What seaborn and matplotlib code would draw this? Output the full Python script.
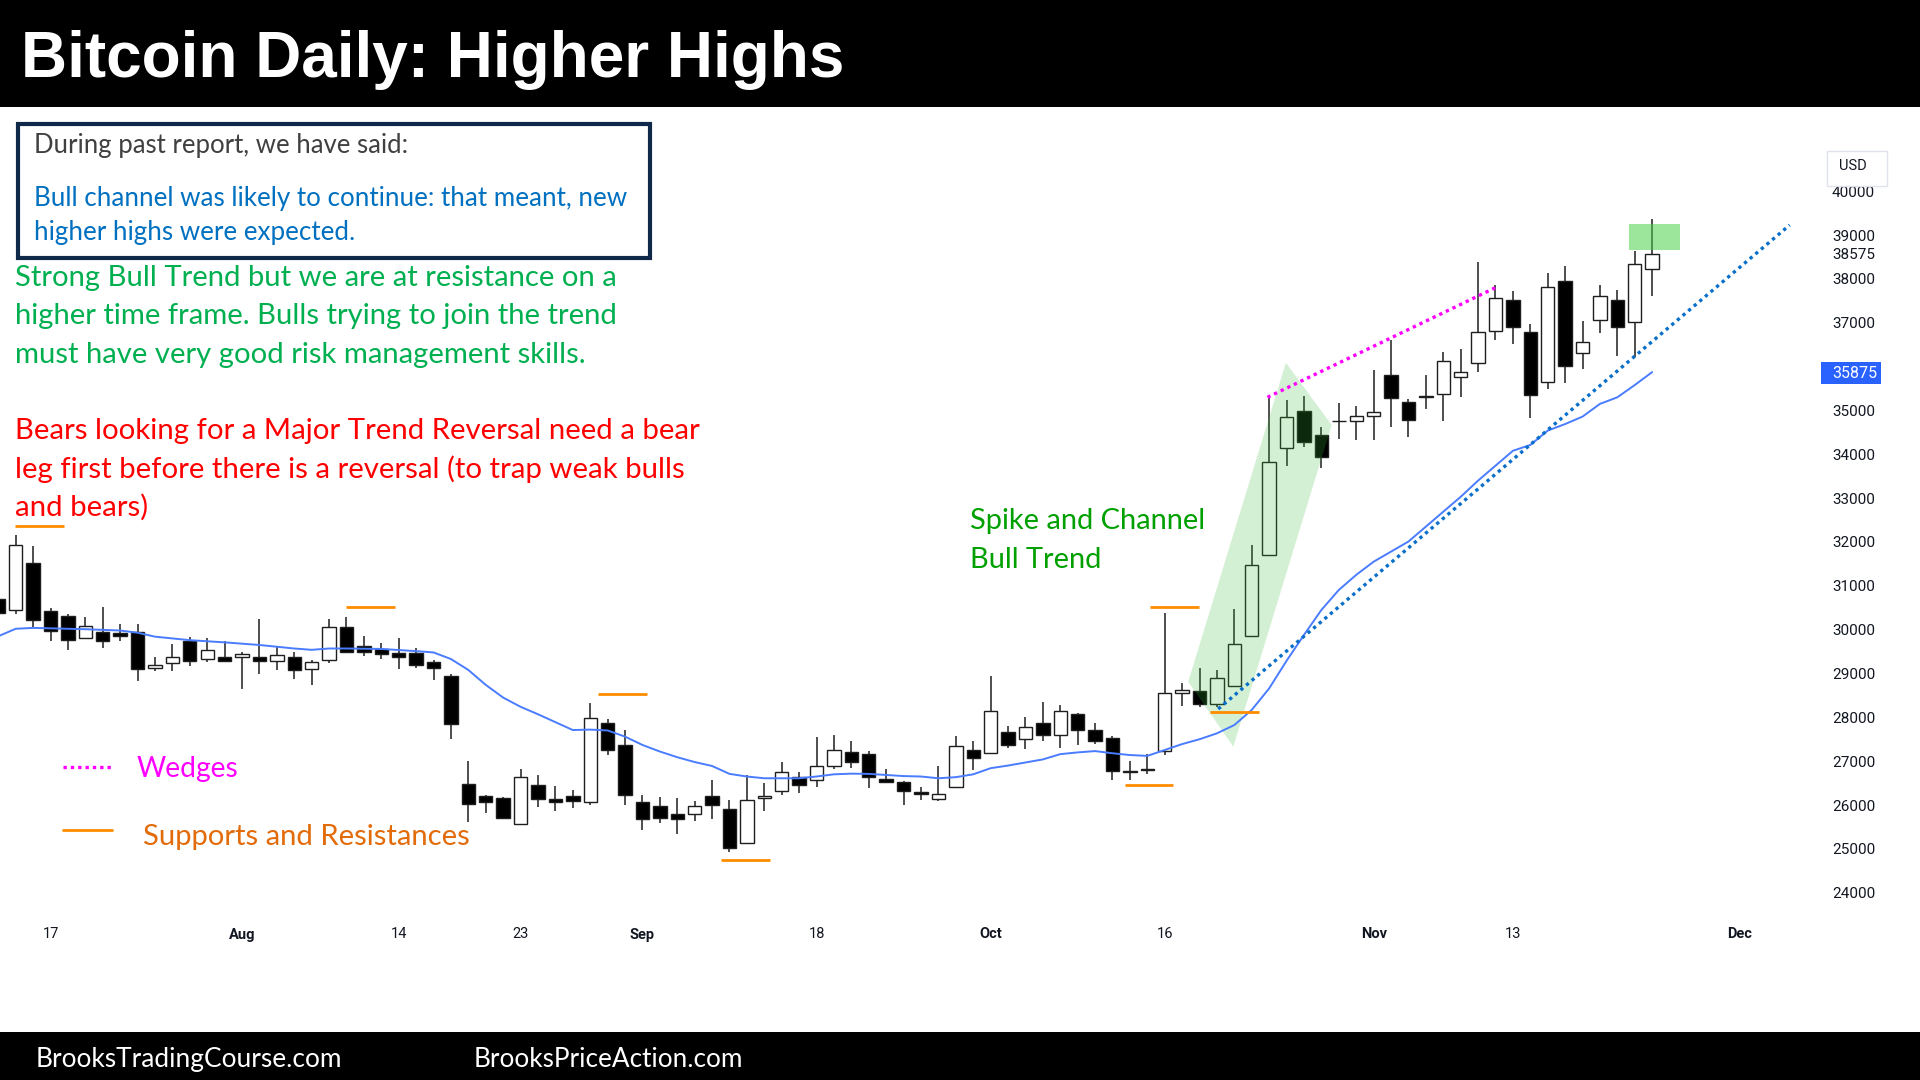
"""Bitcoin daily (CME futures) candles with Brooks price-action annotations."""
import matplotlib
matplotlib.use("Agg")
import matplotlib.pyplot as plt
from matplotlib.patches import Rectangle, Polygon
from matplotlib.lines import Line2D
import seaborn as sns

W, H = 1920, 1080

# -- Data ----------------------------------------------------------------------
OPEN = [30690, 30450, 31510, 30430, 30320, 29800, 29950, 29930, 29950, 29130,
        29230, 29740, 29320, 29380, 29380, 29380, 29280, 29380, 29110, 29310,
        30050, 29630, 29550, 29460, 29460, 29260, 28940, 26470, 26210, 26150,
        25570, 26460, 26130, 26200, 26060, 27880, 27380, 26070, 25980, 25800,
        25800, 26200, 25920, 25130, 26170, 26310, 26640, 26560, 26890, 27210,
        27160, 26590, 26530, 26290, 26140, 26400, 27250, 27180, 27670, 27500,
        27860, 27600, 28080, 27700, 27530, 26760, 26790, 27240, 28560, 28590,
        28300, 28720, 29850, 31700, 34150, 34990, 34430, 34760, 34770, 34870,
        35810, 35190, 35300, 35380, 35760, 36080, 36810, 37520, 36800, 35650,
        37960, 36300, 37060, 37520, 37010, 38220]
HIGH = [30720, 32160, 31910, 30490, 30350, 30280, 30520, 30120, 30120, 29380,
        29670, 29830, 29800, 29750, 29500, 30240, 29600, 29480, 29310, 30250,
        30280, 29860, 29690, 29800, 29580, 29310, 28990, 27010, 26230, 26190,
        26810, 26690, 26440, 26340, 28320, 27970, 27700, 26220, 26180, 26150,
        26100, 26570, 26120, 26690, 26510, 26970, 26760, 27560, 27600, 27460,
        27240, 26820, 26540, 26420, 26890, 27580, 27450, 28940, 27800, 28000,
        28340, 28280, 28090, 27880, 27570, 27010, 27160, 30370, 28790, 29120,
        29080, 30470, 31920, 35280, 35240, 35340, 34620, 35160, 35110, 35920,
        36600, 35260, 35810, 36330, 36400, 38380, 37860, 37730, 36970, 38140,
        38290, 37050, 37860, 37750, 38640, 39370]
LOW = [30370, 30360, 30030, 29740, 29540, 29790, 29580, 29750, 28820, 29060,
       29060, 29170, 29270, 29270, 28640, 28980, 29080, 28880, 28740, 29250,
       29470, 29400, 29330, 29100, 29130, 28850, 27500, 25620, 25810, 25690,
       25560, 25960, 25860, 25940, 25990, 27150, 26010, 25420, 25590, 25350,
       25640, 25690, 24920, 25100, 25860, 26230, 26280, 26420, 26810, 26850,
       26380, 26520, 25990, 26110, 26080, 26390, 26800, 27170, 27290, 27270,
       27460, 27290, 27370, 27390, 26570, 26570, 26700, 27140, 28260, 28230,
       28240, 28700, 29840, 31700, 33740, 34160, 33680, 34340, 34330, 34330,
       34630, 34400, 35030, 34760, 35300, 35870, 36610, 36510, 34820, 35500,
       35620, 35940, 36760, 36240, 36230, 37600]
CLOSE = [30390, 31920, 30220, 29970, 29770, 30090, 29740, 29860, 29100, 29190,
         29380, 29290, 29530, 29280, 29440, 29280, 29420, 29080, 29260, 30070,
         29490, 29480, 29450, 29380, 29200, 29130, 27840, 26020, 26060, 25710,
         26630, 26140, 26060, 26090, 27990, 27250, 26230, 25690, 25710, 25690,
         25970, 25990, 25010, 26110, 26200, 26760, 26460, 26880, 27250, 26970,
         26630, 26530, 26330, 26240, 26240, 27350, 27070, 28140, 27370, 27770,
         27600, 28140, 27710, 27470, 26780, 26770, 26830, 28560, 28620, 28300,
         28890, 29670, 31470, 33830, 34840, 34290, 33940, 34770, 34880, 34960,
         35290, 34780, 35320, 36130, 35870, 36790, 37560, 36900, 35350, 37810,
         36020, 36550, 37610, 36910, 38330, 38575]

# 20-bar moving average (bar index, price)
MA_IDX = [0, 1, 2, 3, 5, 7, 8, 9, 11, 13, 15, 17, 18, 19, 20, 22, 24, 25, 26,
          27, 28, 29, 30, 31, 32, 33, 34, 35, 36, 37, 38, 39, 40, 41, 42, 43,
          44, 45, 46, 47, 48, 49, 50, 51, 52, 53, 54, 55, 56, 57, 58, 59, 60,
          61, 62, 63, 64, 65, 66, 67, 68, 69, 70, 71, 72, 73, 74, 75, 76, 77,
          78, 79, 80, 81, 82, 83, 84, 85, 86, 87, 88, 89, 90, 91, 92, 93, 94, 95]
MA_VAL = [29850, 30020, 30040, 30030, 30010, 29980, 29930, 29840, 29760, 29710,
          29650, 29570, 29540, 29570, 29570, 29560, 29510, 29480, 29330, 29080,
          28740, 28450, 28240, 28070, 27890, 27710, 27720, 27700, 27560, 27370,
          27220, 27090, 26980, 26890, 26710, 26650, 26610, 26610, 26610, 26650,
          26700, 26715, 26710, 26685, 26660, 26650, 26610, 26635, 26700, 26840,
          26900, 26970, 27040, 27160, 27200, 27230, 27180, 27140, 27120, 27255,
          27390, 27500, 27635, 27825, 28170, 28660, 29290, 29880, 30450, 30905,
          31250, 31550, 31780, 32010, 32350, 32690, 33030, 33400, 33740, 34080,
          34213, 34540, 34690, 34860, 35150, 35300, 35580, 35875]
LAST_MA = "35875"
LAST_CLOSE = 38575

XTICK_POS = [3, 14, 23, 30, 37, 47, 57, 67, 79, 87, 100]
XTICK_LABELS = ["17", "Aug", "14", "23", "Sep", "18", "Oct", "16", "Nov", "13", "Dec"]
MONTHS = {"Aug", "Sep", "Oct", "Nov", "Dec"}
# 36000 sits under the last-value tag, so it is left out
YTICKS = [24000, 25000, 26000, 27000, 28000, 29000, 30000, 31000, 32000,
          33000, 34000, 35000, 37000, 38000, 39000, 40000, LAST_CLOSE]

# support / resistance marks: start bar, end bar, price
SR_X0 = [0.98, 19.97, 34.45, 41.5, 66.16, 64.7, 69.6]
SR_X1 = [3.8, 22.8, 37.26, 44.3, 68.97, 67.5, 72.4]
SR_Y = [32371, 30524, 28526, 24746, 30524, 26457, 28129]

WEDGE_X = [72.9, 86.1]
WEDGE_Y = [35300, 37820]
TREND_X = [70.07, 102.9]
TREND_Y = [28190, 39230]
SPIKE_X = [68.35, 73.96, 76.59, 70.94]
SPIKE_Y = [28813, 36089, 34668, 27330]
TARGET_X = [93.64, 96.57]
TARGET_Y = [38660, 39253]

GREEN_TEXT = ["Strong Bull Trend but we are at resistance on a",
              "higher time frame. Bulls trying to join the trend",
              "must have very good risk management skills."]
RED_TEXT = ["Bears looking for a Major Trend Reversal need a bear",
            "leg first before there is a reversal (to trap weak bulls",
            "and bears)"]

sns.set_theme(style="white")
TEXT_FONT = ["Lato", "DejaVu Sans"]
TV_FONT = ["Roboto", "DejaVu Sans"]


# -- Helpers -------------------------------------------------------------------
def fx(x):
    return x / W


def fy(y):
    return 1 - y / H


def put_text(fig, x, y, s, width=None, size=20, **kw):
    # y is the visual line centre in pixels; small nudge for glyph descent
    t = fig.text(fx(x), fy(y + 2.5), s, va="center", ha="left", fontsize=size, **kw)
    if width is not None:
        w = t.get_window_extent(fig.canvas.get_renderer()).width
        t.set_fontsize(size * width / w)
    return t


# -- Chart ---------------------------------------------------------------------
fig = plt.figure(figsize=(W / 100, H / 100), dpi=100)
fig.patch.set_facecolor("white")
ax = fig.add_axes([0, 165 / H, 1812 / W, 807 / H])
ax.set_facecolor("white")

x = list(range(len(OPEN)))
face = ["white" if c >= o else "black" for o, c in zip(OPEN, CLOSE)]
bottoms = [min(o, c) for o, c in zip(OPEN, CLOSE)]
heights = [max(abs(c - o), 10) for o, c in zip(OPEN, CLOSE)]
ax.vlines(x, LOW, HIGH, color="#1e1e1e", lw=1.1, zorder=2)
ax.bar(x, heights, bottom=bottoms, width=0.77, color=face,
       edgecolor="#1e1e1e", linewidth=1.0, zorder=3)

sns.lineplot(x=MA_IDX, y=MA_VAL, ax=ax, color="#4a7cff", lw=1.4, zorder=5)

ax.add_patch(Polygon(list(zip(SPIKE_X, SPIKE_Y)), closed=True, fc="#3cbf3c",
                     ec="none", alpha=0.22, zorder=4))
ax.add_patch(Rectangle((TARGET_X[0], TARGET_Y[0]), TARGET_X[1] - TARGET_X[0],
                       TARGET_Y[1] - TARGET_Y[0], fc="#45d045", ec="none",
                       alpha=0.53, zorder=4))
ax.hlines(SR_Y, SR_X0, SR_X1, color="#ff8c00", lw=2.0, zorder=6)
ax.plot(WEDGE_X, WEDGE_Y, color="#ff00ff", lw=2.4, ls=(0, (1, 1.2)), zorder=6)
ax.plot(TREND_X, TREND_Y, color="#0a6fc9", lw=2.4, ls=(0, (1, 1.2)), zorder=6)

ax.set_xlim(0.098, 104.18)
ax.set_ylim(23491, 41899)
for s in ax.spines.values():
    s.set_visible(False)
ax.grid(False)

ax.set_xticks(XTICK_POS)
ax.set_xticklabels(XTICK_LABELS, family=TV_FONT)
ax.tick_params(axis="x", length=0, pad=9, labelsize=10.5, labelcolor="#131722")
for lab in ax.get_xticklabels():
    if lab.get_text() in MONTHS:
        lab.set_fontweight("bold")

ax.yaxis.tick_right()
ax.set_yticks(YTICKS)
ax.set_yticklabels([str(v) for v in YTICKS], family=TV_FONT)
ax.tick_params(axis="y", length=0, pad=14.4, labelsize=11, labelcolor="#131722")

# price scale labels
fig.add_artist(Rectangle((fx(1827), fy(186)), fx(60), 35 / H, fc="white",
                         ec="#e0e3eb", lw=1, transform=fig.transFigure))
put_text(fig, 1839, 164, "USD", size=10.5, color="#131722", family=TV_FONT)
fig.add_artist(Rectangle((fx(1821), fy(384)), fx(60), 22.5 / H, fc="#2962ff",
                         ec="none", transform=fig.transFigure))
put_text(fig, 1832, 371, LAST_MA, size=11.5, color="white", family=TV_FONT)

# title and footer bars
fig.add_artist(Rectangle((0, fy(106.5)), 1, 106.5 / H, fc="black", ec="none",
                         transform=fig.transFigure))
fig.add_artist(Rectangle((0, 0), 1, 48 / H, fc="black", ec="none",
                         transform=fig.transFigure))
put_text(fig, 21, 58, "Bitcoin Daily: Higher Highs", width=821, color="white",
         fontweight="bold", family=["Liberation Sans", "DejaVu Sans"])
put_text(fig, 35.5, 1057, "BrooksTradingCourse.com", width=306, color="white",
         family=TEXT_FONT)
put_text(fig, 474, 1057, "BrooksPriceAction.com", width=269, color="white",
         family=TEXT_FONT)

# past-report box
fig.add_artist(Rectangle((fx(18.4), fy(258.4)), fx(631.8), 134.7 / H, fc="white",
                         ec="#10294a", lw=3, transform=fig.transFigure))
put_text(fig, 34, 143, "During past report, we have said:", width=375,
         color="#404040", family=TEXT_FONT)
t = put_text(fig, 34, 196, "Bull channel was likely to continue: that meant, new",
             width=594, color="#0070c0", family=TEXT_FONT)
put_text(fig, 34, 230, "higher highs were expected.", size=t.get_fontsize(),
         color="#0070c0", family=TEXT_FONT)

t = put_text(fig, 14.7, 275.5, GREEN_TEXT[0], width=604, color="#00b050",
             family=TEXT_FONT)
for yy, line in zip([313.5, 352.7], GREEN_TEXT[1:]):
    put_text(fig, 14.7, yy, line, size=t.get_fontsize(), color="#00b050",
             family=TEXT_FONT)

t = put_text(fig, 14.7, 428.6, RED_TEXT[0], width=684.5, color="#ff0000",
             family=TEXT_FONT)
for yy, line in zip([466.5, 504.5], RED_TEXT[1:]):
    put_text(fig, 14.7, yy, line, size=t.get_fontsize(), color="#ff0000",
             family=TEXT_FONT)

t = put_text(fig, 970, 519, "Spike and Channel", width=236, color="#00a000",
             family=TEXT_FONT)
put_text(fig, 970, 557, "Bull Trend", size=t.get_fontsize(), color="#00a000",
         family=TEXT_FONT)

# legend
fig.add_artist(Line2D([fx(63), fx(113)], [fy(766.7), fy(766.7)], color="#ff00ff",
                      lw=2.4, ls=(0, (1, 1.2)), transform=fig.transFigure))
put_text(fig, 137, 766.5, "Wedges", width=102, color="#ff00ff", family=TEXT_FONT)
fig.add_artist(Line2D([fx(63), fx(112)], [fy(830), fy(830)], color="#ff8c00",
                      lw=2.0, transform=fig.transFigure))
put_text(fig, 143, 835, "Supports and Resistances", width=328, color="#e26b0a",
         family=TEXT_FONT)

fig.savefig("out.png", dpi=100)
